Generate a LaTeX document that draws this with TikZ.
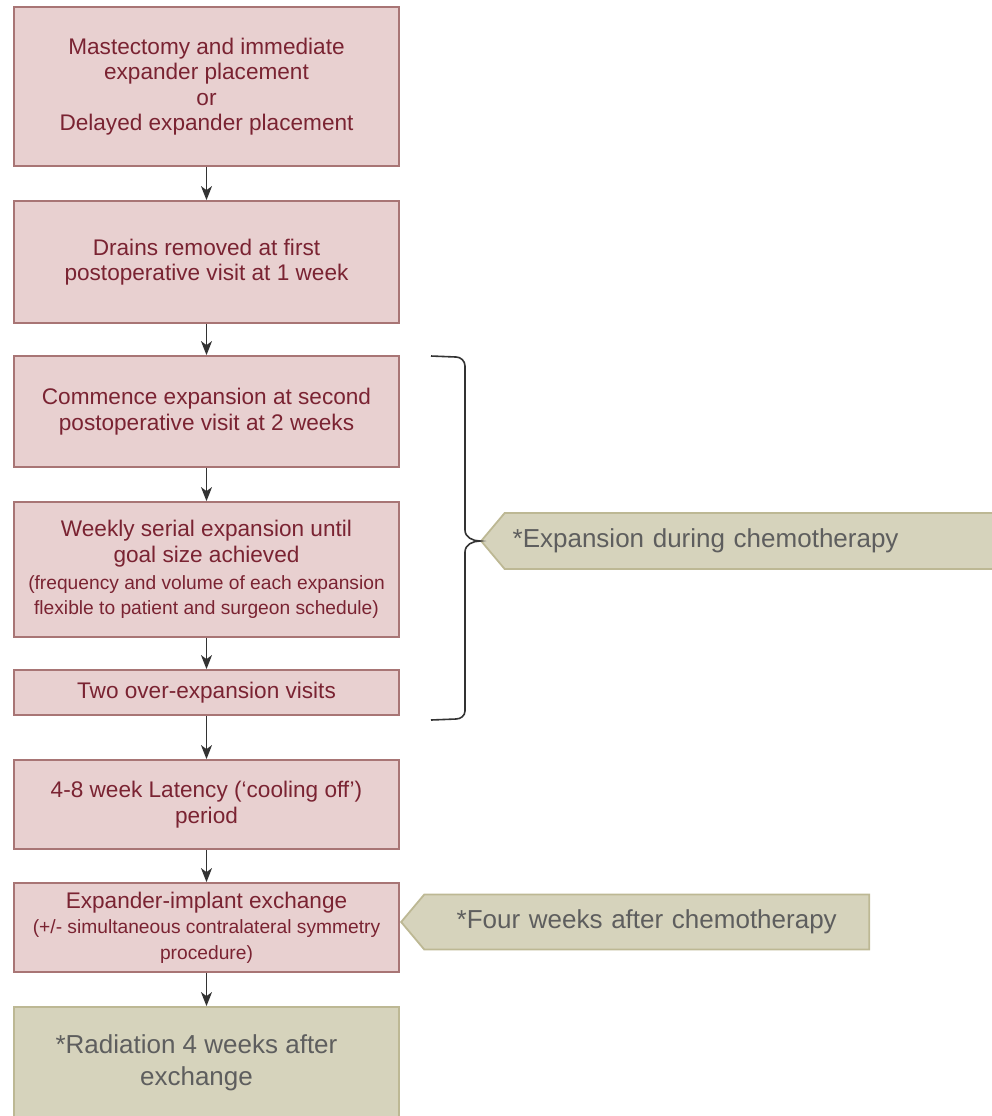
\documentclass[tikz,border=0pt]{standalone}
\usepackage{fontspec}
\setmainfont{Liberation Sans}
\usetikzlibrary{arrows.meta,shapes.symbols}

\definecolor{boxpink}{HTML}{E8D0D0}
\definecolor{boxedge}{HTML}{A87575}
\definecolor{boxtext}{HTML}{7A2332}
\definecolor{notefill}{HTML}{D6D3BC}
\definecolor{noteedge}{HTML}{BDB894}
\definecolor{notetext}{HTML}{5E5E5E}
\definecolor{arrowgray}{HTML}{333333}

\newcommand{\bigtxt}{\fontsize{11.3}{12.7}\selectfont}
\newcommand{\smalltxt}{\fontsize{9.6}{12}\selectfont}

\tikzset{
  stepbox/.style={rectangle,draw=boxedge,fill=boxpink,line width=0.9pt,
    text=boxtext,font=\bigtxt,align=center,minimum width=192.5pt,inner sep=2pt},
  notebox/.style={signal,signal to=west,signal from=nowhere,signal pointer angle=100,
    draw=noteedge,fill=notefill,line width=0.9pt,text=notetext,
    font=\fontsize{13}{16}\selectfont,inner xsep=4pt,inner ysep=0pt},
  flow/.style={draw=arrowgray,line width=0.7pt,-{Stealth[length=7pt,width=5.5pt,inset=2pt]}}
}

\begin{document}
\begin{tikzpicture}[x=0.5pt,y=-0.5pt]
  \useasboundingbox (0,0) rectangle (992,1116);
  \clip (0,0) rectangle (992,1116);

  \begin{scope}[every node/.style={stepbox}]
    \node (b1) at (206.5,86.5)  [minimum height=79.5pt] {Mastectomy and immediate\\expander placement\\or\\Delayed expander placement};
    \node (b2) at (206.5,262)   [minimum height=61pt] {Drains removed at first\\postoperative visit at 1 week};
    \node (b3) at (206.5,411.5) [minimum height=55.5pt] {Commence expansion at second\\postoperative visit at 2 weeks};
    \node (b4) at (206.5,569.5) [minimum height=67.5pt] {Weekly serial expansion until\\goal size achieved\\[1pt]
      \smalltxt (frequency and volume of each expansion\\\smalltxt flexible to patient and surgeon schedule)};
    \node (b5) at (206.5,692.5) [minimum height=22.5pt] {Two over-expansion visits};
    \node (b6) at (206.5,804.5) [minimum height=44.5pt] {4-8 week Latency (‘cooling off’)\\period};
    \node (b7) at (206.5,927.5) [minimum height=44.5pt] {Expander-implant exchange\\
      \smalltxt (+/- simultaneous contralateral symmetry\\\smalltxt procedure)};
    \node (b8) at (206.5,1063)  [minimum height=56pt,draw=noteedge,fill=notefill,text=notetext,
      font=\fontsize{13}{16}\selectfont] {*Radiation 4 weeks after\hspace*{10pt}\\exchange\hspace*{10pt}};
  \end{scope}

  % side notes
  \node (chemo) [notebox,anchor=west,minimum height=28pt,text width=250pt,align=left]
    at (480,541) {*Expansion during chemotherapy};
  \node (fourwk) [notebox,anchor=west,minimum height=27.5pt,text width=214.5pt,align=center]
    at (400,922) {*Four weeks after chemotherapy};

  \begin{scope}[every edge/.style={flow}]
    \path (b1) edge (b2);
    \path (b2) edge (b3);
    \path (b3) edge (b4);
    \path (b4) edge (b5);
    \path (b5) edge (b6);
    \path (b6) edge (b7);
    \path (b7) edge (b8);
  \end{scope}

  % brace over the expansion steps
  \coordinate (bracetop) at (431,356);
  \coordinate (bracebot) at (431,720);
  \draw[arrowgray,line width=0.8pt]
    (bracetop) -- (456,357) to[out=0,in=90] (465,366) -- (465,530)
    to[out=-90,in=180] (chemo.west) to[out=180,in=90] (465,552)
    -- (465,711) to[out=-90,in=0] (456,719) -- (bracebot);

\end{tikzpicture}
\end{document}
